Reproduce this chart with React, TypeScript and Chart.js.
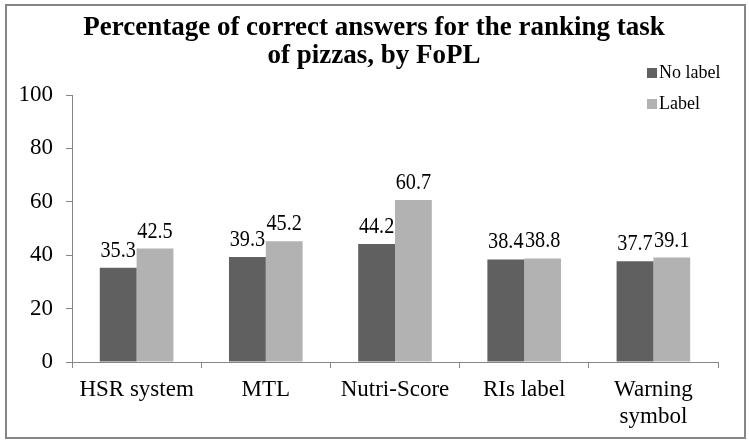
import React, { useEffect, useRef } from "react";
import { Chart, registerables } from "chart.js";

Chart.register(...registerables);

const titleLines = ["Percentage of correct answers for the ranking task", "of pizzas, by FoPL"];
const categories: (string | string[])[] = ["HSR system", "MTL", "Nutri-Score", "RIs label", ["Warning", "symbol"]];
const seriesNames = ["No label", "Label"];
const noLabelValues = [35.3, 39.3, 44.2, 38.4, 37.7];
const labelValues = [42.5, 45.2, 60.7, 38.8, 39.1];
const yTicks = [0, 20, 40, 60, 80, 100];

const FONT = "'Liberation Serif', 'Times New Roman', serif";
const DARK = "#606060";
const LIGHT = "#B2B2B2";
const AXIS = "#868686";

const titlePlugin = {
  id: "customTitle",
  afterDraw(chart: any) {
    const ctx = chart.ctx;
    ctx.save();
    ctx.font = `bold 27px ${FONT}`;
    ctx.fillStyle = "#000";
    ctx.textAlign = "center";
    ctx.textBaseline = "alphabetic";
    const baselines = [35, 63];
    titleLines.forEach((line, i) => ctx.fillText(line, 374, baselines[i]));
    ctx.restore();
  },
};

const valueLabels = {
  id: "valueLabels",
  afterDatasetsDraw(chart: any) {
    const ctx = chart.ctx;
    chart.data.datasets.forEach((ds: any, i: number) => {
      const meta = chart.getDatasetMeta(i);
      meta.data.forEach((bar: any, j: number) => {
        ctx.save();
        ctx.font = `23px ${FONT}`;
        ctx.fillStyle = "#000";
        ctx.textAlign = "center";
        ctx.textBaseline = "alphabetic";
        ctx.translate(bar.x, bar.y - 11);
        ctx.scale(0.88, 1);
        ctx.fillText(ds.data[j].toFixed(1), 0, 0);
        ctx.restore();
      });
    });
  },
};

const sideLegend = {
  id: "sideLegend",
  afterDraw(chart: any) {
    const ctx = chart.ctx;
    ctx.save();
    ctx.font = `18px ${FONT}`;
    ctx.textBaseline = "middle";
    ctx.textAlign = "left";
    const ys = [73, 104];
    chart.data.datasets.forEach((ds: any, i: number) => {
      ctx.fillStyle = ds.backgroundColor;
      ctx.fillRect(647, ys[i] - 5, 10, 10);
      ctx.fillStyle = "#000";
      ctx.fillText(ds.label, 659, ys[i]);
    });
    ctx.restore();
  },
};

export default function App() {
  const ref = useRef<HTMLCanvasElement>(null);
  useEffect(() => {
    if (!ref.current) return;
    const chart = new Chart(ref.current, {
      type: "bar",
      data: {
        labels: categories as any,
        datasets: [
          { label: seriesNames[0], data: noLabelValues, backgroundColor: DARK, categoryPercentage: 0.57, barPercentage: 1 },
          { label: seriesNames[1], data: labelValues, backgroundColor: LIGHT, categoryPercentage: 0.57, barPercentage: 1 },
        ],
      },
      options: {
        animation: false,
        responsive: false,
        devicePixelRatio: 1,
        layout: { padding: { left: 8, right: 31, top: 95, bottom: 0 } },
        plugins: {
          legend: { display: false },
          tooltip: { enabled: false },
          title: { display: false },
        },
        scales: {
          x: {
            offset: true,
            grid: { display: true, drawOnChartArea: false, drawTicks: true, tickLength: 6, color: AXIS, offset: true },
            border: { display: true, color: AXIS, width: 1 },
            ticks: { color: "#000", font: { family: FONT, size: 23, lineHeight: 1.2 }, padding: 8, maxRotation: 0, autoSkip: false },
            afterFit(scale: any) {
              scale.height = 81;
            },
          },
          y: {
            min: 0,
            max: 100,
            afterBuildTicks(scale: any) {
              scale.ticks = yTicks.map((v) => ({ value: v }));
            },
            grid: { display: true, drawOnChartArea: false, drawTicks: true, tickLength: 6, color: AXIS },
            border: { display: true, color: AXIS, width: 1 },
            ticks: { color: "#000", font: { family: FONT, size: 23 }, padding: 13 },
            afterFit(scale: any) {
              scale.width = 64;
            },
          },
        },
      },
      plugins: [valueLabels, sideLegend, titlePlugin],
    });
    return () => chart.destroy();
  }, []);
  return (
    <div style={{ position: "absolute", left: 0, top: 0, width: 749, height: 443, background: "#fff" }}>
      <canvas ref={ref} width={749} height={443} style={{ position: "absolute", left: 0, top: 0 }} />
      <div
        style={{
          position: "absolute",
          left: 5,
          top: 4,
          width: 741,
          height: 435,
          boxSizing: "border-box",
          border: `2px solid ${AXIS}`,
          pointerEvents: "none",
        }}
      />
    </div>
  );
}
